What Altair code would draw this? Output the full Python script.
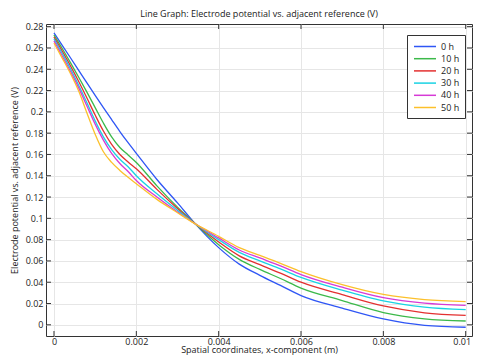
import altair as alt
import pandas as pd

# ---- data ----
x_vals = [0, 0.0002, 0.0004, 0.0006, 0.0008, 0.001, 0.0012, 0.0014, 0.0016, 0.0018,
          0.002, 0.0025, 0.003, 0.0034, 0.004, 0.0045, 0.005, 0.0055, 0.006, 0.007,
          0.008, 0.009, 0.01]

y_0h = [0.2741, 0.2625, 0.2508, 0.2390, 0.2272, 0.2155, 0.2040, 0.1927, 0.1815, 0.1710,
        0.1610, 0.1365, 0.1145, 0.0962, 0.0725, 0.0570, 0.0465, 0.0370, 0.0275, 0.0157,
        0.0055, -0.0005, -0.0023]
y_10h = [0.2722, 0.2595, 0.2462, 0.2325, 0.2185, 0.2040, 0.1895, 0.1765, 0.1665, 0.1595,
         0.1525, 0.1305, 0.1105, 0.0960, 0.0753, 0.0615, 0.0520, 0.0435, 0.0345, 0.0228,
         0.0115, 0.0056, 0.0036]
y_20h = [0.2703, 0.2570, 0.2432, 0.2285, 0.2130, 0.1970, 0.1820, 0.1695, 0.1600, 0.1530,
         0.1465, 0.1272, 0.1092, 0.0958, 0.0778, 0.0648, 0.0565, 0.0485, 0.0400, 0.0284,
         0.0177, 0.0113, 0.0089]
y_30h = [0.2685, 0.2548, 0.2405, 0.2250, 0.2085, 0.1915, 0.1765, 0.1645, 0.1555, 0.1485,
         0.1400, 0.1230, 0.1075, 0.0957, 0.0800, 0.0680, 0.0600, 0.0525, 0.0445, 0.0325,
         0.0225, 0.0166, 0.0142]
y_40h = [0.2666, 0.2525, 0.2380, 0.2225, 0.2055, 0.1885, 0.1735, 0.1610, 0.1515, 0.1440,
         0.1355, 0.1200, 0.1060, 0.0956, 0.0816, 0.0703, 0.0628, 0.0553, 0.0472, 0.0353,
         0.0255, 0.0203, 0.0182]
y_50h = [0.2647, 0.2505, 0.2360, 0.2195, 0.1990, 0.1790, 0.1625, 0.1525, 0.1450, 0.1385,
         0.1325, 0.1178, 0.1053, 0.0955, 0.0831, 0.0725, 0.0652, 0.0578, 0.0500, 0.0378,
         0.0286, 0.0237, 0.0218]

series_names = ["0 h", "10 h", "20 h", "30 h", "40 h", "50 h"]
series_values = [y_0h, y_10h, y_20h, y_30h, y_40h, y_50h]
series_colors = ["#2f56f5", "#3cb94a", "#e33030", "#19d3e3", "#d63ad6", "#fcc02b"]

x_ticks = [0, 0.002, 0.004, 0.006, 0.008, 0.01]
y_ticks = [0, 0.02, 0.04, 0.06, 0.08, 0.1, 0.12, 0.14, 0.16, 0.18, 0.2, 0.22, 0.24, 0.26, 0.28]

title_text = "Line Graph: Electrode potential vs. adjacent reference (V)"
x_title = "Spatial coordinates, x-component (m)"
y_title = "Electrode potential vs. adjacent reference (V)"

# ---- build tables ----
rows = []
for name, ys in zip(series_names, series_values):
    for xv, yv in zip(x_vals, ys):
        rows.append({"x": xv, "y": yv, "series": name})
df = pd.DataFrame(rows)
df_xt = pd.DataFrame({"x": x_ticks})
df_yt = pd.DataFrame({"y": y_ticks})

W, H = 426, 312
TL = 5
FONT = "Open Sans"

xscale = alt.Scale(domain=[-0.000194, 0.010153], nice=False, zero=False)
yscale = alt.Scale(domain=[-0.0105, 0.2825], nice=False, zero=False)

x_axis = alt.Axis(values=x_ticks, format="~g", title=x_title, grid=True,
                  ticks=False, domain=False, labelPadding=1, titleY=9.5,
                  labelFlush=False, labelOverlap=False, labelBound=False,
                  labelOffset=alt.ExprRef("datum.value >= 0.0099 ? -4 : 0"))
y_axis = alt.Axis(values=y_ticks, format="~g", title=y_title, grid=True,
                  ticks=False, domain=False, labelPadding=3, titleX=-27,
                  titleY=H / 2, labelOverlap=False, labelFlush=False,
                  labelBound=False)

X = alt.X("x:Q", scale=xscale, axis=x_axis)
Y = alt.Y("y:Q", scale=yscale, axis=y_axis)

lines = alt.Chart(df).mark_line(strokeWidth=1.3, interpolate="monotone").encode(
    x=X,
    y=Y,
    color=alt.Color(
        "series:N",
        scale=alt.Scale(domain=series_names, range=series_colors),
        sort=series_names,
        legend=alt.Legend(
            title=None, orient="none", legendX=361, legendY=11,
            symbolType="M-2,0H2", symbolSize=121, symbolStrokeWidth=1.5,
            symbolOffset=6.5, labelFontSize=9, labelOffset=9.5,
            padding=5, rowPadding=0.2,
            strokeColor="#333", fillColor="white",
        ),
    ),
)

tick_color = "#333"
bottom_ticks = alt.Chart(df_xt).mark_rule(color=tick_color).encode(
    x=X, y=alt.value(H), y2=alt.value(H - TL))
top_ticks = alt.Chart(df_xt).mark_rule(color=tick_color).encode(
    x=X, y=alt.value(0), y2=alt.value(TL))
left_ticks = alt.Chart(df_yt).mark_rule(color=tick_color).encode(
    y=Y, x=alt.value(0), x2=alt.value(TL))
right_ticks = alt.Chart(df_yt).mark_rule(color=tick_color).encode(
    y=Y, x=alt.value(W - TL), x2=alt.value(W))

chart = alt.layer(lines, bottom_ticks, top_ticks, left_ticks, right_ticks).properties(
    width=W, height=H,
    title=alt.TitleParams(title_text, fontSize=9, font=FONT, fontWeight="normal",
                          anchor="middle", offset=4, color="#222"),
    autosize=alt.AutoSizeParams(type="none"),
    padding={"left": 38, "top": 16, "right": 1, "bottom": 19},
).configure_view(
    stroke="#333", strokeWidth=1
).configure_axis(
    labelFont=FONT, titleFont=FONT, labelFontSize=9, titleFontSize=9,
    labelColor="#222", titleColor="#222", titleFontWeight="normal",
    gridColor="#e6e6e6", gridWidth=1, labelOverlap=False,
).configure_legend(
    labelFont=FONT, labelColor="#222"
)

chart.save("out.html", embed_options={"renderer": "svg", "actions": False})
